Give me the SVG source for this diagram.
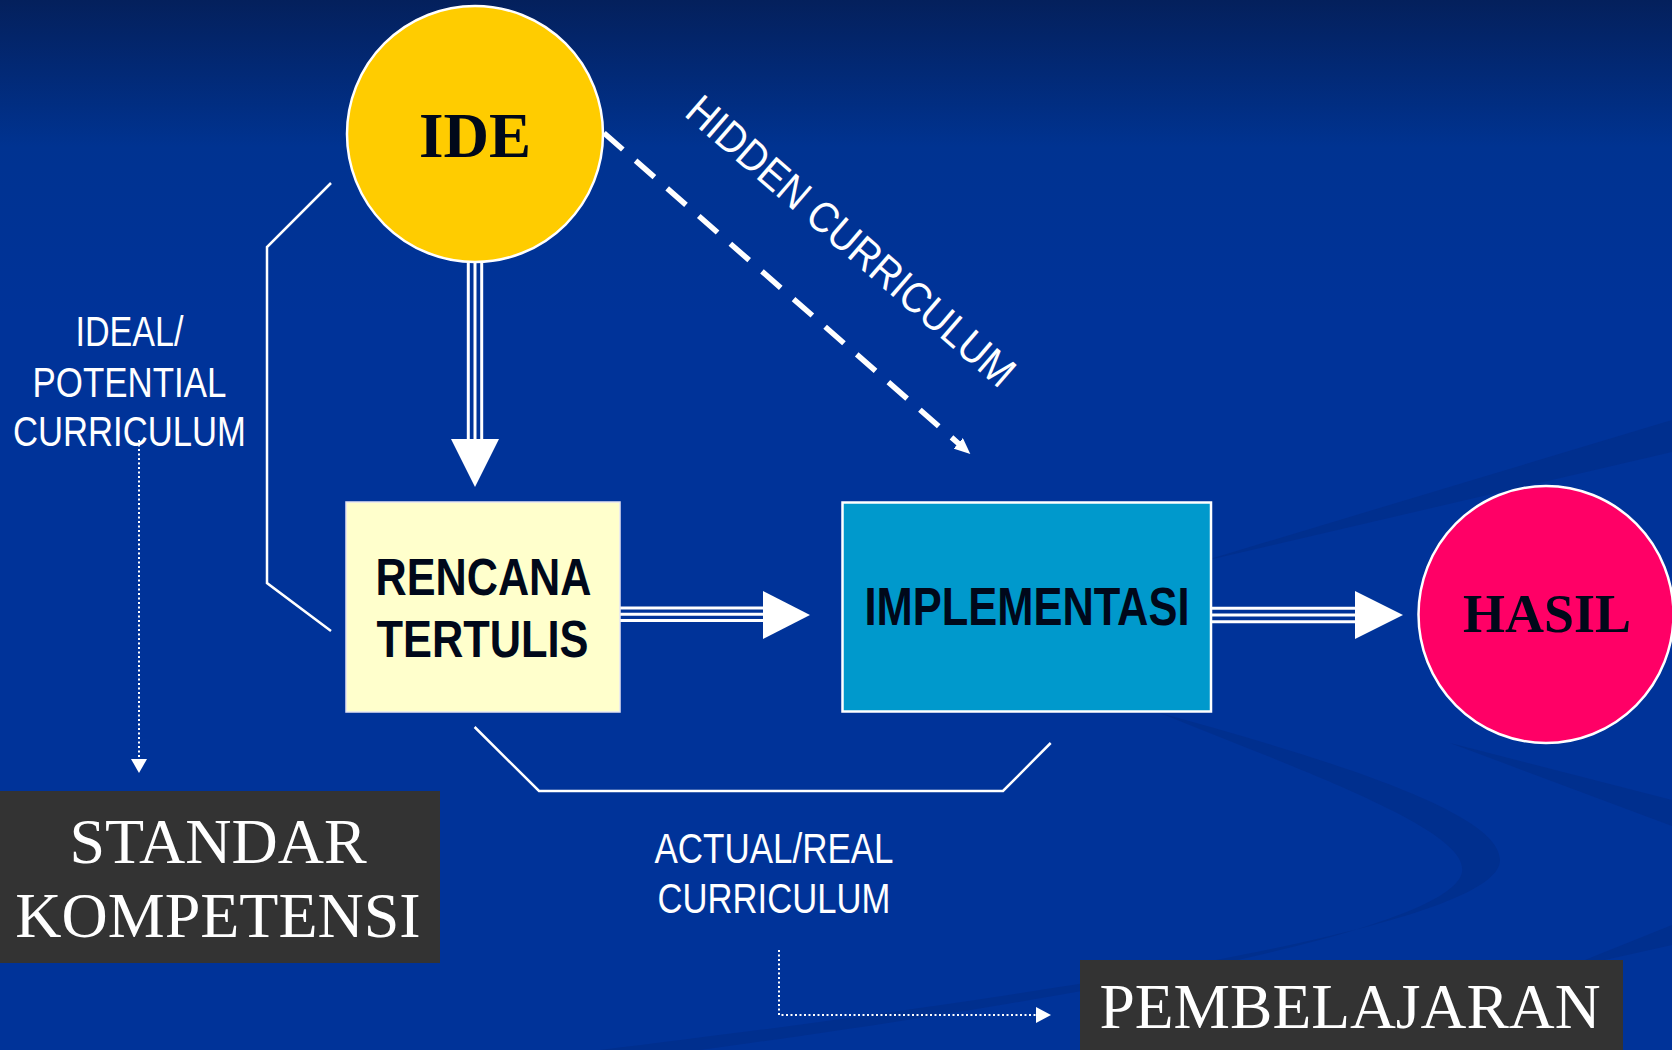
<svg xmlns="http://www.w3.org/2000/svg" width="1672" height="1050" viewBox="0 0 1672 1050">
  <defs>
    <linearGradient id="bg" x1="0" y1="0" x2="0" y2="1050" gradientUnits="userSpaceOnUse">
      <stop offset="0" stop-color="#04205C"/>
      <stop offset="0.14" stop-color="#003391"/>
      <stop offset="0.3" stop-color="#003399"/>
      <stop offset="1" stop-color="#003399"/>
    </linearGradient>
    <marker id="smallHead" viewBox="0 0 16 14" refX="1" refY="7" markerWidth="16" markerHeight="14" markerUnits="userSpaceOnUse" orient="auto">
      <polygon points="0,0 16,7 0,14" fill="#FFFFFF"/>
    </marker>
  </defs>
  <style>
    .serifB { font-family: "Liberation Serif", "Times New Roman", serif; font-weight: bold; fill: #00081A; }
    .serifW { font-family: "Liberation Serif", "Times New Roman", serif; fill: #FFFFFF; }
    .sansB { font-family: "Liberation Sans", Arial, sans-serif; font-weight: bold; fill: #00081A; }
    .label { font-family: "Liberation Sans", Arial, sans-serif; fill: #FFFFFF; font-size: 43px; }
    .bracket { fill: none; stroke: #FFFFFF; stroke-width: 2.5; stroke-linejoin: miter; }
    .triple { stroke: #FFFFFF; stroke-width: 3; fill: none; }
    .head { fill: #FFFFFF; }
    .dotted { fill: none; stroke: #FFFFFF; stroke-width: 2; stroke-dasharray: 2 2.5; }
    .swoosh { fill: #002C85; opacity: 0.55; }
  </style>

  <g id="background">
    <rect x="0" y="0" width="1672" height="1050" fill="url(#bg)"/>
    <path class="swoosh" d="M 1160,713 C 1350,765 1500,815 1500,860 C 1500,905 1300,965 600,1050 L 700,1050 C 1250,975 1455,915 1462,872 C 1470,830 1300,770 1160,713 Z"/>
    <path class="swoosh" d="M 1200,562 L 1672,420 L 1672,452 Z"/>
    <path class="swoosh" d="M 1450,743 L 1672,800 L 1672,826 Z"/>
    <path class="swoosh" d="M 1560,970 L 1672,925 L 1672,945 Z"/>
  </g>

  <g id="connectors">
    <!-- IDE -> RENCANA (triple line) -->
    <line class="triple" x1="468.3" y1="262" x2="468.3" y2="440"/>
    <line class="triple" x1="475" y1="262" x2="475" y2="440"/>
    <line class="triple" x1="481.7" y1="262" x2="481.7" y2="440"/>
    <polygon class="head" points="451,439 499,439 475,487"/>
    <!-- RENCANA -> IMPLEMENTASI -->
    <line class="triple" x1="620" y1="608" x2="764" y2="608"/>
    <line class="triple" x1="620" y1="614.3" x2="764" y2="614.3"/>
    <line class="triple" x1="620" y1="620.6" x2="764" y2="620.6"/>
    <polygon class="head" points="763,591 763,639 810,615"/>
    <!-- IMPLEMENTASI -> HASIL -->
    <line class="triple" x1="1211" y1="608.2" x2="1356" y2="608.2"/>
    <line class="triple" x1="1211" y1="615" x2="1356" y2="615"/>
    <line class="triple" x1="1211" y1="621.8" x2="1356" y2="621.8"/>
    <polygon class="head" points="1355,591 1355,639 1403,615"/>
    <!-- hidden curriculum dashed -->
    <line x1="604" y1="133" x2="959" y2="444" stroke="#FFFFFF" stroke-width="5.5" stroke-dasharray="25 17" marker-end="url(#smallHead)"/>
    <!-- ideal/potential bracket -->
    <polyline class="bracket" points="331,183 267,247 267,583 331,631"/>
    <!-- actual/real bracket -->
    <polyline class="bracket" points="474.6,727 539,791 1003,791 1050.7,743"/>
    <!-- dotted to STANDAR KOMPETENSI -->
    <line class="dotted" x1="139" y1="440" x2="139" y2="760"/>
    <polygon class="head" points="131,759 147,759 139,773"/>
    <!-- dotted to PEMBELAJARAN -->
    <polyline class="dotted" points="779,950 779,1015 1037,1015"/>
    <polygon class="head" points="1036,1007 1036,1023 1051,1015"/>
  </g>

  <g id="node-ide">
    <circle cx="475" cy="134" r="128" fill="#FFCC00" stroke="#FFFFFF" stroke-width="2.5"/>
    <text class="serifB" x="475" y="157" font-size="63" text-anchor="middle">IDE</text>
  </g>

  <g id="node-rencana">
    <rect x="346" y="502" width="274" height="210" fill="#FFFFCC" stroke="#E4E4F4" stroke-width="1.5"/>
    <text class="sansB" x="483.5" y="595" font-size="51" text-anchor="middle" textLength="216" lengthAdjust="spacingAndGlyphs">RENCANA</text>
    <text class="sansB" x="482.5" y="656.7" font-size="51" text-anchor="middle" textLength="212" lengthAdjust="spacingAndGlyphs">TERTULIS</text>
  </g>

  <g id="node-implementasi">
    <rect x="842.5" y="502.5" width="368.5" height="209" fill="#0099CC" stroke="#FFFFFF" stroke-width="2.5"/>
    <text class="sansB" x="1027" y="625" font-size="53" text-anchor="middle" textLength="325" lengthAdjust="spacingAndGlyphs">IMPLEMENTASI</text>
  </g>

  <g id="node-hasil">
    <ellipse cx="1546" cy="614.5" rx="127.5" ry="128.5" fill="#FF0066" stroke="#FFFFFF" stroke-width="2.5"/>
    <text class="serifB" x="1547" y="632" font-size="54" text-anchor="middle">HASIL</text>
  </g>

  <g id="node-standar">
    <rect x="0" y="791" width="440" height="172" fill="#333333"/>
    <text class="serifW" x="218" y="862.7" font-size="64" text-anchor="middle">STANDAR</text>
    <text class="serifW" x="218" y="937" font-size="64" text-anchor="middle">KOMPETENSI</text>
  </g>

  <g id="node-pembelajaran">
    <rect x="1080" y="960" width="543" height="90" fill="#333333"/>
    <text class="serifW" x="1350" y="1028" font-size="63.5" text-anchor="middle">PEMBELAJARAN</text>
  </g>

  <g id="label-ideal">
    <text class="label" x="129.5" y="345.7" text-anchor="middle" textLength="108" lengthAdjust="spacingAndGlyphs">IDEAL/</text>
    <text class="label" x="129.5" y="397" text-anchor="middle" textLength="194" lengthAdjust="spacingAndGlyphs">POTENTIAL</text>
    <text class="label" x="129.5" y="446" text-anchor="middle" textLength="233" lengthAdjust="spacingAndGlyphs">CURRICULUM</text>
  </g>

  <g id="label-actual">
    <text class="label" x="774" y="863" text-anchor="middle" textLength="239" lengthAdjust="spacingAndGlyphs">ACTUAL/REAL</text>
    <text class="label" x="774" y="913" text-anchor="middle" textLength="233" lengthAdjust="spacingAndGlyphs">CURRICULUM</text>
  </g>

  <g id="label-hidden">
    <text class="label" transform="translate(683,115) rotate(40.9)" x="0" y="0" font-size="44" textLength="419" lengthAdjust="spacingAndGlyphs">HIDDEN CURRICULUM</text>
  </g>
</svg>
